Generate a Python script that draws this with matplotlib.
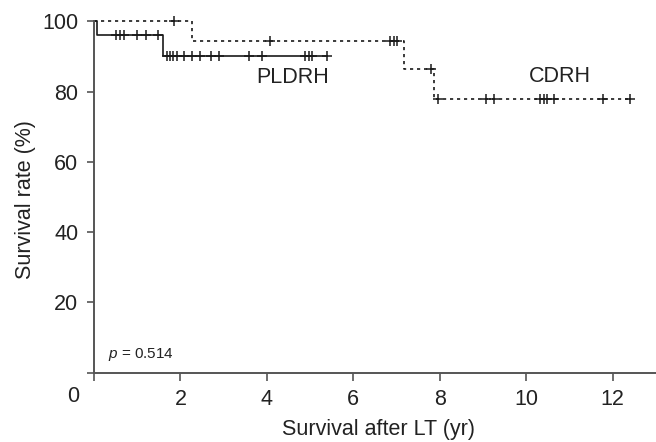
import numpy as np
import matplotlib
matplotlib.use("Agg")
import matplotlib.pyplot as plt

plt.rcParams['font.family'] = ['Liberation Sans', 'DejaVu Sans']
plt.rcParams['mathtext.fontset'] = 'custom'
plt.rcParams['mathtext.it'] = 'Liberation Sans:italic'
plt.rcParams['mathtext.rm'] = 'Liberation Sans'

# ---- data ----
pldrh_times = [0.0, 0.08, 1.60]
pldrh_surv = [100.0, 96.2, 90.2]
pldrh_end = 5.40
pldrh_censor = [0.50, 0.59, 0.69, 1.00, 1.20, 1.49,
                1.70, 1.76, 1.82, 1.92, 2.08, 2.27, 2.46, 2.70, 2.89,
                3.59, 3.88, 4.89, 4.97, 5.05, 5.38]

cdrh_times = [0.0, 2.27, 7.17, 7.87]
cdrh_surv = [100.0, 94.4, 86.5, 77.9]
cdrh_end = 12.39
cdrh_censor = [1.85, 4.07, 6.85, 6.93, 7.02, 7.79,
               7.97, 9.07, 9.25, 10.32, 10.40, 10.47, 10.64, 11.78, 12.39]

x_ticks = [0, 2, 4, 6, 8, 10, 12]
x_ticklabels = ['', '2', '4', '6', '8', '10', '12']
y_ticks = [0, 20, 40, 60, 80, 100]
y_ticklabels = ['', '20', '40', '60', '80', '100']

W, H = 656, 442
fig = plt.figure(figsize=(W / 100, H / 100), dpi=100)
ax = fig.add_axes([94 / W, 1 - 372.7 / H, 561.9 / W, (372.7 - 19.5) / H])

line_col = '#1a1a1a'


def km(ax, times, surv, end, censor, **kw):
    t = list(times) + [end]
    s = list(surv) + [surv[-1]]
    ax.step(t, s, where='post', color=line_col, clip_on=False, **kw)
    idx = np.searchsorted(np.array(times), np.array(censor), side='right') - 1
    lev = np.array(surv)[idx]
    ax.plot(censor, lev, linestyle='none', marker='+', markersize=6.5,
            markeredgewidth=1.1, color=line_col, clip_on=False)


km(ax, pldrh_times, pldrh_surv, pldrh_end, pldrh_censor, linewidth=1.2)
km(ax, cdrh_times, cdrh_surv, cdrh_end, cdrh_censor, linewidth=1.2,
   dashes=(1.9, 2.3))

ax.set_xlim(0, 13.0)
ax.set_ylim(0, 100.5)

for sp in ['top', 'right']:
    ax.spines[sp].set_visible(False)
for sp in ['left', 'bottom']:
    ax.spines[sp].set_color('#555555')
    ax.spines[sp].set_linewidth(1.4)
ax.spines['left'].set_bounds(0, 100)

ax.set_xticks(x_ticks)
ax.set_xticklabels(x_ticklabels)
ax.set_yticks(y_ticks)
ax.set_yticklabels(y_ticklabels)
ax.tick_params(axis='both', direction='out', length=5.4, width=1.2,
               color='#555555', labelsize=15.5, labelcolor='#222222')
ax.tick_params(axis='x', pad=6.0)
ax.tick_params(axis='y', pad=6.0)

fig.text(73 / W, 1 - 397 / H, '0', fontsize=15.5, color='#222222',
         ha='center', va='center')

fig.text(26 / W, 1 - 200 / H, 'Survival rate (%)', fontsize=15.5,
         color='#222222', rotation=90, ha='center', va='center')
fig.text(379 / W, 1 - 430 / H, 'Survival after LT (yr)', fontsize=15.5,
         color='#222222', ha='center', va='center')

ax.text(4.60, 83.9, 'PLDRH', fontsize=15.5, color='#222222',
        ha='center', va='center')
ax.text(10.78, 84.3, 'CDRH', fontsize=15.5, color='#222222',
        ha='center', va='center')
ax.text(0.32, 5.3, r'$\it{p}$ = 0.514', fontsize=11, color='#222222',
        ha='left', va='center')

fig.savefig('out.png', dpi=100)
